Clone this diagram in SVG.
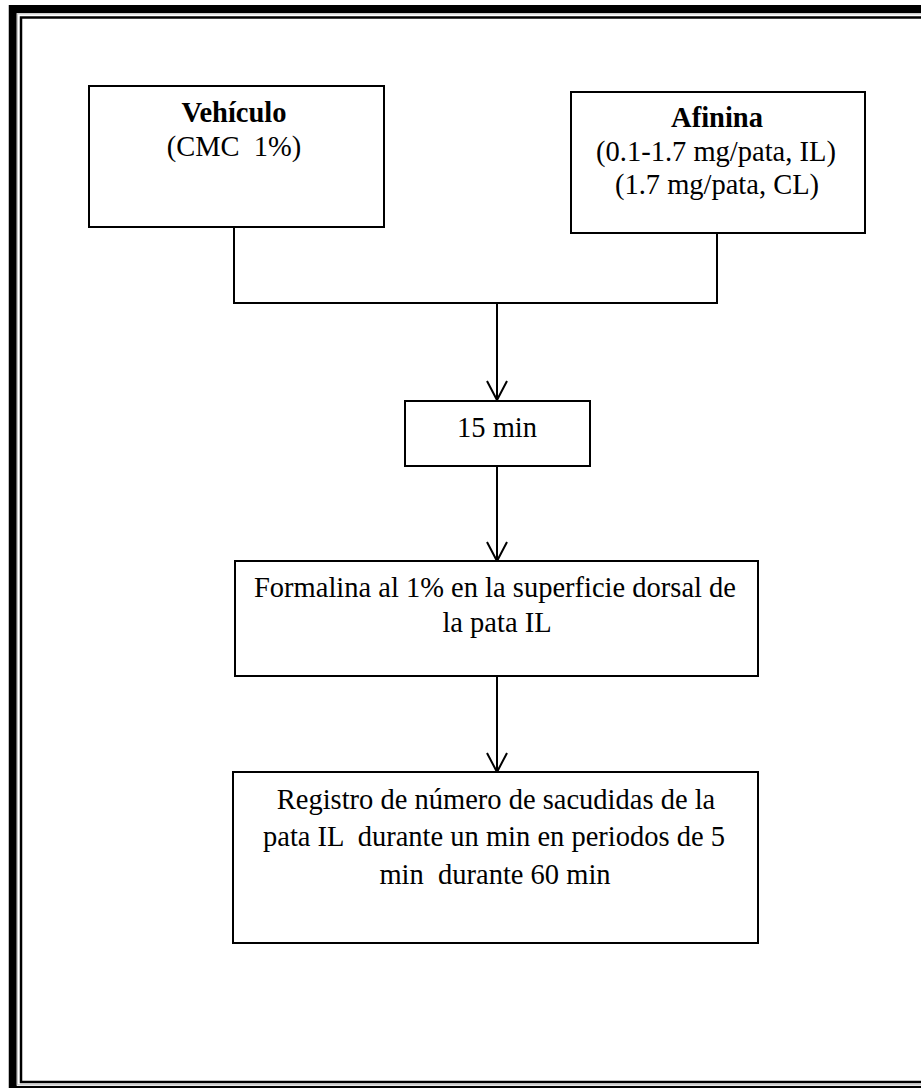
<svg xmlns="http://www.w3.org/2000/svg" width="921" height="1088" viewBox="0 0 921 1088">
  <style>
    .box { fill: #ffffff; stroke: #000000; stroke-width: 2; }
    .t { font-family: "Liberation Serif", "Times New Roman", serif; font-size: 28.5px; fill: #000000; text-anchor: middle; white-space: pre; }
    .b { font-weight: bold; }
    .conn { fill: none; stroke: #000000; stroke-width: 2; }
  </style>
  <defs>
    <marker id="arr" markerUnits="userSpaceOnUse" markerWidth="24" markerHeight="24" viewBox="-21 -12 24 24" refX="0" refY="0" orient="auto">
      <path d="M-19,-10 L0,0 L-19,10" fill="none" stroke="#000000" stroke-width="2"/>
    </marker>
  </defs>
  <rect width="921" height="1088" fill="#ffffff"/>
  <g id="frame">
    <rect x="12.75" y="9" width="1000" height="1081" fill="none" stroke="#000000" stroke-width="8"/>
    <rect x="17.3" y="13.8" width="1000" height="1071" fill="none" stroke="#c4c4c4" stroke-width="1.2"/>
    <rect x="21" y="17.5" width="1000" height="1064.5" fill="none" stroke="#000000" stroke-width="2.5"/>
  </g>
  <g id="connectors">
    <path class="conn" d="M234,227 V303 H717 V228"/>
    <path class="conn" d="M497,303 V400" marker-end="url(#arr)"/>
    <path class="conn" d="M497,466 V561" marker-end="url(#arr)"/>
    <path class="conn" d="M497,676 V772" marker-end="url(#arr)"/>
  </g>
  <g id="vehiculo">
    <rect class="box" x="89" y="86" width="295" height="141"/>
    <text class="t b" x="234" y="122">Vehículo</text>
    <text class="t" x="234" y="156">(CMC  1%)</text>
  </g>
  <g id="afinina">
    <rect class="box" x="571" y="92" width="294" height="141"/>
    <text class="t b" x="717" y="127">Afinina</text>
    <text class="t" x="716" y="161">(0.1-1.7 mg/pata, IL)</text>
    <text class="t" x="717" y="194">(1.7 mg/pata, CL)</text>
  </g>
  <g id="espera">
    <rect class="box" x="405" y="401" width="185" height="65"/>
    <text class="t" x="497" y="437">15 min</text>
  </g>
  <g id="formalina">
    <rect class="box" x="235" y="561" width="523" height="115"/>
    <text class="t" x="495" y="597">Formalina al 1% en la superficie dorsal de</text>
    <text class="t" x="497" y="632">la pata IL</text>
  </g>
  <g id="registro">
    <rect class="box" x="233" y="772" width="525" height="171"/>
    <text class="t" x="496" y="809">Registro de número de sacudidas de la</text>
    <text class="t" x="494" y="846">pata IL  durante un min en periodos de 5</text>
    <text class="t" x="495" y="884">min  durante 60 min</text>
  </g>
</svg>
